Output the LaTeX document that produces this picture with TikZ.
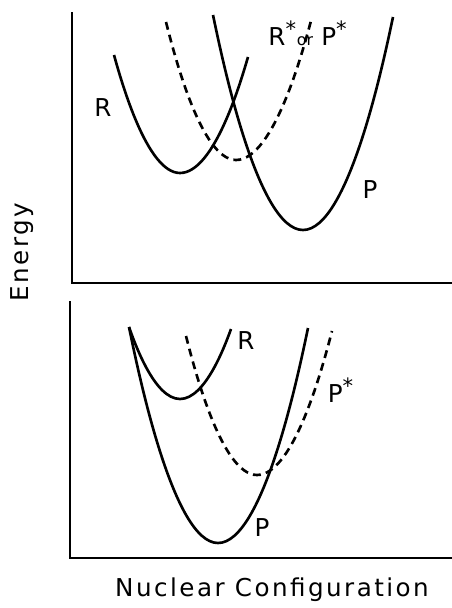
\documentclass[tikz,border=0pt]{standalone}
\usepackage{fontspec}
\setmainfont{DejaVu Sans}
\usetikzlibrary{positioning}

\newcommand{\exstar}{\textsuperscript{\large *}}

\begin{document}
\begin{tikzpicture}[
    x=0.02cm, y=-0.02cm,
    axis/.style={line width=1.6pt, line cap=rect},
    curve/.style={line width=1.5pt},
    excited/.style={curve, dash pattern=on 4.5pt off 3pt},
    lbl/.style={font=\fontsize{14}{16}\selectfont, inner sep=1pt},
    title/.style={lbl, font=\fontsize{14}{16}\selectfont\addfontfeature{LetterSpace=10}}
]
\useasboundingbox (0,0) rectangle (451,608);

% Top panel: axes
\coordinate (tO) at (72,283);
\coordinate (tY) at (72,13);
\coordinate (tX) at (451,283);
\draw[axis] (tY) -- (tO) -- (tX);

% Top panel: curves
\draw[curve] (114,55) parabola bend (180,173) (248,57);
\draw[curve] (213,15) parabola bend (303,230) (393,17);
\draw[excited] (166,22) parabola bend (236,160) (312,17);

\node[lbl] (tR) at (103,108) {R};
\node[lbl] (tP) at (370,190) {P};
\node[lbl, inner sep=0pt] (tS) at (308,33) {R\exstar{\small or}\,\,P\exstar};

% Bottom panel: axes
\coordinate (bO) at (70,558);
\coordinate (bY) at (70,302);
\coordinate (bX) at (451,558);
\draw[axis] (bY) -- (bO) -- (bX);

% Bottom panel: curves
\draw[curve] (129,327) parabola bend (180,399) (231,329);
\draw[curve] (129,327) parabola bend (218,543) (308,328);
\draw[excited] (186,336) parabola bend (257,475) (332,331);

\node[lbl] (bR) at (246,341) {R};
\node[lbl] (bS) at (341,390) {P\exstar};
\node[lbl] (bP) at (262,528) {P};

% Axis titles
\node[title, rotate=90] (ylab) at (22,252) {Energy};
\node[title] (xlab) at (272,590) {Nuclear Configuration};
\end{tikzpicture}
\end{document}
